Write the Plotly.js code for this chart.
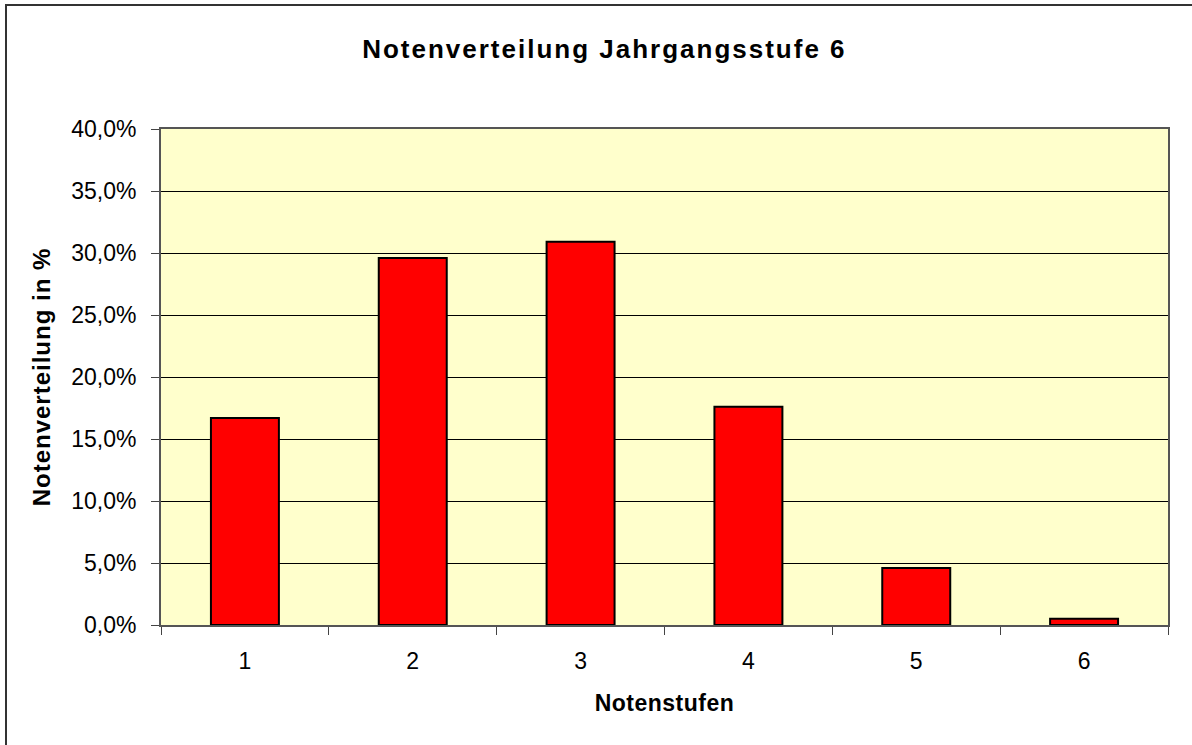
<!DOCTYPE html>
<html>
<head>
<meta charset="utf-8">
<script src="https://cdn.plot.ly/plotly-3.0.1.min.js"></script>
<style>
  html, body { margin: 0; padding: 0; background: #fff; }
  #chart { width: 1192px; height: 745px; }
  text.gtitle { letter-spacing: 2px; }
  text.xtitle { letter-spacing: 0.5px; }
  text.ytitle { letter-spacing: 1px; }
</style>
</head>
<body>
<div id="chart"></div>
<script>
const categories = ["1", "2", "3", "4", "5", "6"];
const shares = [16.7, 29.6, 30.9, 17.6, 4.6, 0.5];
const titleText = "Notenverteilung Jahrgangsstufe 6";
const xTitle = "Notenstufen";
const yTitle = "Notenverteilung in %";

const W = 1192, H = 745;
const m = {l: 161, r: 24, t: 129, b: 120};
const pw = W - m.l - m.r, ph = H - m.t - m.b;
const px = v => (v - m.l) / pw;
const py = v => (H - m.b - v) / ph;

const font = "'Liberation Sans', Arial, sans-serif";

Plotly.newPlot('chart', [{
  type: 'bar',
  x: categories,
  y: shares,
  marker: {color: '#FF0000', line: {color: '#000000', width: 2}},
  hoverinfo: 'x+y'
}], {
  width: W, height: H,
  margin: m,
  paper_bgcolor: '#FFFFFF',
  plot_bgcolor: '#FFFFCC',
  separators: ',.',
  bargap: 0.595,
  showlegend: false,
  font: {family: font, color: '#000', size: 22},
  title: {text: '<b>' + titleText + '</b>', x: 0.507, xanchor: 'center', y: 0.935, yanchor: 'middle',
          font: {family: font, size: 26, color: '#000'}},
  xaxis: {
    type: 'category',
    range: [-0.5, 5.5],
    tickson: 'boundaries',
    ticks: 'outside', ticklen: 8, tickcolor: '#444', tickwidth: 1,
    ticklabelstandoff: 14,
    showline: true, linecolor: '#555', linewidth: 2, mirror: true,
    showgrid: false,
    tickfont: {size: 23},
    title: {text: '<b>' + xTitle + '</b>', standoff: 22, font: {size: 23}}
  },
  yaxis: {
    range: [0, 40],
    dtick: 5,
    tickformat: '.1f', ticksuffix: '%',
    ticks: 'outside', ticklen: 8, tickcolor: '#444', tickwidth: 1,
    ticklabelstandoff: 10,
    showline: true, linecolor: '#555', linewidth: 2, mirror: true,
    showgrid: true, gridcolor: '#000', gridwidth: 1,
    zeroline: false,
    tickfont: {size: 23},
    title: {text: '<b>' + yTitle + '</b>', standoff: 14, font: {size: 24}}
  },
  shapes: [{
    type: 'rect', xref: 'paper', yref: 'paper',
    x0: px(6), x1: px(W + 20), y0: py(H + 20), y1: py(5),
    line: {color: '#333', width: 2}, fillcolor: 'rgba(0,0,0,0)', layer: 'below'
  }]
}, {displayModeBar: false, staticPlot: true});
</script>
</body>
</html>
